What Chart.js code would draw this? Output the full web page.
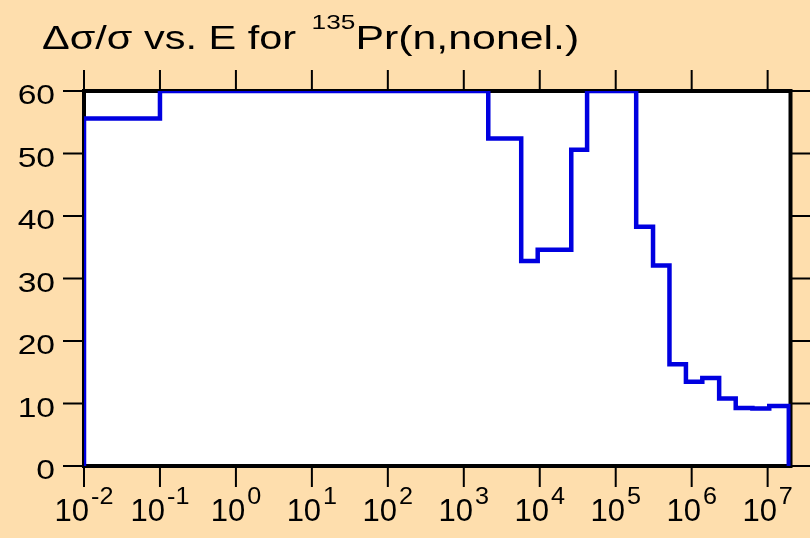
<!DOCTYPE html>
<html>
<head>
<meta charset="utf-8">
<script src="https://cdn.jsdelivr.net/npm/chart.js@4"></script>
<style>
  html, body { margin: 0; padding: 0; background: rgb(254, 222, 173); }
  canvas { display: block; }
</style>
</head>
<body>
<canvas id="xsChart" width="810" height="538"></canvas>
<script>
// bin left edges (eV), last entry is the right edge of the last bin
const binEdges = [1e-2, 1e-1, 2.1e3, 5.7e3, 9.4e3, 2.6e4, 4.2e4, 1.86e5, 3.1e5, 5.1e5, 8.4e5, 1.38e6, 2.3e6, 3.8e6, 6.3e6, 1.05e7, 1.9e7];
// relative uncertainty (%) in each bin
const binValues = [55.6, 60, 52.4, 32.8, 34.6, 50.6, 60, 38.3, 32.1, 16.3, 13.5, 14.1, 10.8, 9.3, 9.2, 9.6];

const xTickExps = [-2, -1, 0, 1, 2, 3, 4, 5, 6, 7];
const yTicks = [0, 10, 20, 30, 40, 50, 60];
const xMin = 1e-2, xMax = 2e7;

const bgColor = 'rgb(254, 222, 173)';
const lineColor = '#0000e0';
const fontFamily = '"Liberation Sans", Arial, sans-serif';

// build the stepped histogram outline
const points = [{ x: binEdges[0], y: 0 }];
binValues.forEach((v, i) => points.push({ x: binEdges[i], y: v }));
points.push({ x: binEdges[binEdges.length - 1], y: 0 });

// draws text with a horizontal stretch, returns the drawn width
function stretchText(ctx, txt, x, y, size, sx, align) {
    ctx.save();
    ctx.font = size + 'px ' + fontFamily;
    const w = ctx.measureText(txt).width * sx;
    let left = x;
    if (align === 'center') left = x - w / 2;
    else if (align === 'right') left = x - w;
    ctx.translate(left, y);
    ctx.scale(sx, 1);
    ctx.textAlign = 'left';
    ctx.textBaseline = 'alphabetic';
    ctx.fillStyle = '#000';
    ctx.fillText(txt, 0, 0);
    ctx.restore();
    return w;
}

function measure(ctx, txt, size, sx) {
    ctx.save();
    ctx.font = size + 'px ' + fontFamily;
    const w = ctx.measureText(txt).width * sx;
    ctx.restore();
    return w;
}

const framePlugin = {
    id: 'frame',
    beforeDraw(chart) {
        const { ctx, chartArea: a } = chart;
        ctx.save();
        ctx.fillStyle = bgColor;
        ctx.fillRect(0, 0, chart.width, chart.height);
        ctx.fillStyle = '#fff';
        ctx.fillRect(a.left, a.top, a.right - a.left, a.bottom - a.top);
        ctx.restore();
    },
    beforeDatasetsDraw(chart) {
        const { ctx, chartArea: a, scales } = chart;
        const xs = scales.x, ys = scales.y;
        ctx.save();
        ctx.strokeStyle = '#000';

        // tick marks on all four sides
        ctx.lineWidth = 2;
        ctx.beginPath();
        xTickExps.forEach((e) => {
            const px = xs.getPixelForValue(Math.pow(10, e));
            ctx.moveTo(px, a.top - 21); ctx.lineTo(px, a.top);
            ctx.moveTo(px, a.bottom); ctx.lineTo(px, a.bottom + 21);
        });
        yTicks.forEach((v) => {
            const py = ys.getPixelForValue(v);
            ctx.moveTo(a.left - 21, py); ctx.lineTo(a.left, py);
            ctx.moveTo(a.right, py); ctx.lineTo(chart.width, py);
        });
        ctx.stroke();

        // frame
        ctx.lineWidth = 4;
        ctx.strokeRect(a.left, a.top, a.right - a.left, a.bottom - a.top);
        ctx.restore();
    },
    afterDraw(chart) {
        const { ctx, scales } = chart;
        const xs = scales.x, ys = scales.y;

        // y labels
        yTicks.forEach((v) => {
            stretchText(ctx, String(v), 55, ys.getPixelForValue(v) + 13, 28, 1.2, 'right');
        });

        // x labels 10^n
        xTickExps.forEach((e) => {
            const px = xs.getPixelForValue(Math.pow(10, e));
            const base = '10', sup = String(e);
            const wb = measure(ctx, base, 31, 1.0);
            const ws = measure(ctx, sup, 24, 1.05);
            const left = px - (wb + ws + 2) / 2;
            stretchText(ctx, base, left, 520.5, 31, 1.0, 'left');
            stretchText(ctx, sup, left + wb + 2, 504, 24, 1.05, 'left');
        });

        // title with superscript mass number
        let tx = 42;
        tx += stretchText(ctx, 'Δσ/σ vs. E for ', tx, 49, 34, 1.22, 'left');
        tx += stretchText(ctx, '135', tx + 4, 28.5, 21, 1.25, 'left') + 4;
        stretchText(ctx, 'Pr(n,nonel.)', tx, 49, 34, 1.26, 'left');
    }
};

new Chart(document.getElementById('xsChart'), {
    type: 'line',
    data: {
        datasets: [{
            data: points,
            stepped: true,
            borderColor: lineColor,
            borderWidth: 4.5,
            pointRadius: 0,
            fill: false,
            clip: 0,
        }],
    },
    options: {
        responsive: false,
        animation: false,
        layout: { padding: { left: 84, top: 91, right: 19.5, bottom: 72 } },
        plugins: { legend: { display: false }, title: { display: false }, tooltip: { enabled: false } },
        scales: {
            x: { type: 'logarithmic', min: xMin, max: xMax, display: false },
            y: { type: 'linear', min: 0, max: 60, display: false },
        },
    },
    plugins: [framePlugin],
});
</script>
</body>
</html>
